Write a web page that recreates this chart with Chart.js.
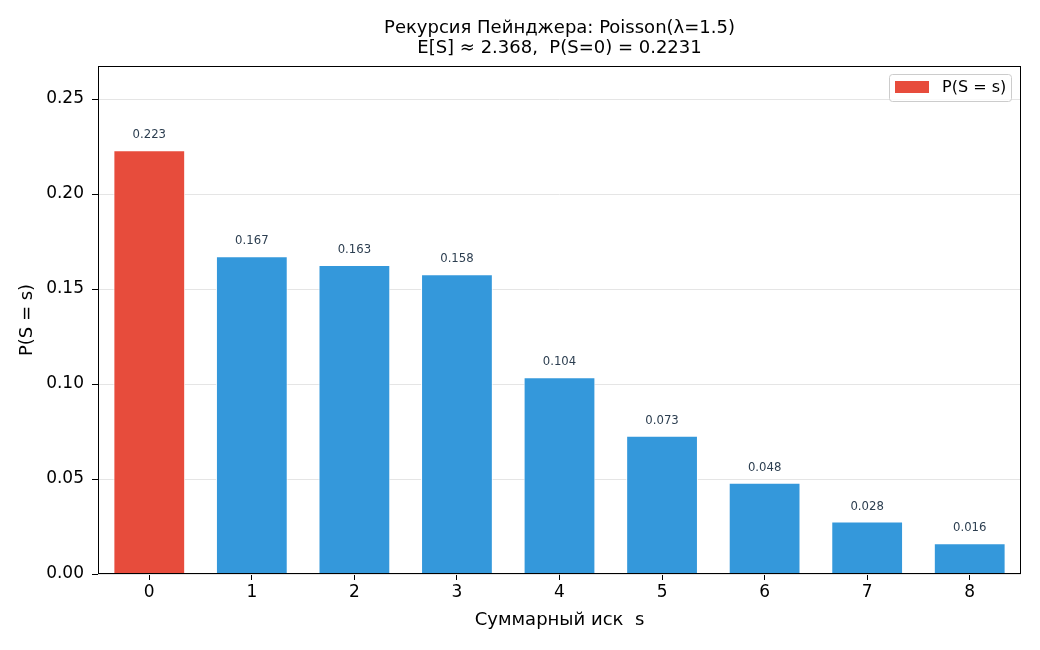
<!DOCTYPE html>
<html>
<head>
<meta charset="utf-8">
<script src="https://cdn.jsdelivr.net/npm/chart.js@4"></script>
<style>
  html, body { margin: 0; padding: 0; background: #fff; }
  #wrap { width: 1040px; height: 650px; }
</style>
</head>
<body>
<div id="wrap"><canvas id="chartPanjer" width="1040" height="650"></canvas></div>
<script>
// ===============================
// DATA
// ===============================
const kategoriler = ["0", "1", "2", "3", "4", "5", "6", "7", "8"];
const olasiliklar = [0.2231, 0.1673, 0.1627, 0.1578, 0.1036, 0.0728, 0.0480, 0.0276, 0.0162];
const etiketler   = ["0.223", "0.167", "0.163", "0.158", "0.104", "0.073", "0.048", "0.028", "0.016"];
const yTickler    = [0, 0.05, 0.10, 0.15, 0.20, 0.25];
const baslik      = ["Рекурсия Пейнджера: Poisson(λ=1.5)", "E[S] ≈ 2.368,  P(S=0) = 0.2231"];
const legendText  = "P(S = s)";

const RED  = "#e74c3c";
const BLUE = "#3498db";
const FONT = "'DejaVu Sans', sans-serif";

// ===============================
// PLUGINS
// ===============================
// title centred over the plot area, like matplotlib does
const axesTitle = {
  id: "axesTitle",
  afterDraw(chart) {
    const ctx = chart.ctx;
    const a = chart.chartArea;
    const cx = (a.left + a.right) / 2;
    ctx.save();
    ctx.font = "18px " + FONT;
    ctx.fillStyle = "#000";
    ctx.textAlign = "center";
    ctx.textBaseline = "middle";
    baslik.forEach((line, i) => ctx.fillText(line, cx, 28 + i * 20.5));
    ctx.restore();
  }
};

const frameAndLabels = {
  id: "frameAndLabels",
  afterDatasetsDraw(chart) {
    const ctx = chart.ctx;
    const a = chart.chartArea;
    const meta = chart.getDatasetMeta(0);

    // bar value labels
    ctx.save();
    ctx.font = "11.7px " + FONT;
    ctx.fillStyle = "#2c3e50";
    ctx.textAlign = "center";
    ctx.textBaseline = "middle";
    meta.data.forEach((bar, i) => {
      ctx.fillText(etiketler[i], bar.x, bar.y - 15);
    });
    ctx.restore();

    // frame
    ctx.save();
    ctx.strokeStyle = "#000";
    ctx.lineWidth = 1;
    ctx.strokeRect(a.left + 0.5, a.top + 0.5, a.right - a.left - 1, a.bottom - a.top - 1);
    ctx.restore();

    // legend
    ctx.save();
    const bx = 889, by = 74, bw = 122, bh = 27;
    ctx.fillStyle = "rgba(255,255,255,0.8)";
    ctx.strokeStyle = "#cccccc";
    ctx.lineWidth = 1;
    ctx.beginPath();
    ctx.roundRect(bx + 0.5, by + 0.5, bw, bh, 3);
    ctx.fill();
    ctx.stroke();
    ctx.fillStyle = RED;
    ctx.fillRect(895, 81, 34, 12);
    ctx.fillStyle = "#000";
    ctx.font = "16px " + FONT;
    ctx.textAlign = "left";
    ctx.textBaseline = "middle";
    ctx.fillText(legendText, 942, 88);
    ctx.restore();
  }
};

// ===============================
// CHART
// ===============================
new Chart(document.getElementById("chartPanjer"), {
  type: "bar",
  data: {
    labels: kategoriler,
    datasets: [{
      label: legendText,
      data: olasiliklar,
      backgroundColor: olasiliklar.map((v, i) => i === 0 ? RED : BLUE),
      borderColor: "rgba(255,255,255,0.9)",
      borderWidth: 1,
      barPercentage: 0.7,
      categoryPercentage: 1.0
    }]
  },
  options: {
    responsive: false,
    animation: false,
    layout: { padding: { top: 66, right: 19, bottom: 0, left: 0 } },
    plugins: {
      legend: { display: false },
      tooltip: { enabled: false },
      title: { display: false }
    },
    scales: {
      x: {
        grid: { display: true, offset: false, drawOnChartArea: false, drawTicks: true, tickLength: 6, tickColor: "#000" },
        border: { display: false },
        ticks: { color: "#000", font: { family: FONT, size: 17 }, padding: 2 },
        title: {
          display: true, text: "Суммарный иск  s", color: "#000",
          font: { family: FONT, size: 18 }, padding: { top: 4, bottom: 19 }
        },
        afterFit(scale) { scale.height = 76; }
      },
      y: {
        min: 0,
        max: 0.2674,
        grid: { color: "#e5e5e5", drawTicks: true, tickLength: 6, tickColor: "#000" },
        border: { display: false },
        ticks: {
          color: "#000", font: { family: FONT, size: 17 }, padding: 8,
          callback: v => Number(v).toFixed(2)
        },
        afterBuildTicks(scale) { scale.ticks = yTickler.map(v => ({ value: v })); },
        title: {
          display: true, text: "P(S = s)", color: "#000",
          font: { family: FONT, size: 18 }, padding: { top: 17, bottom: 0 }
        },
        afterFit(scale) { scale.width = 98; }
      }
    }
  },
  plugins: [frameAndLabels, axesTitle]
});
</script>
</body>
</html>
